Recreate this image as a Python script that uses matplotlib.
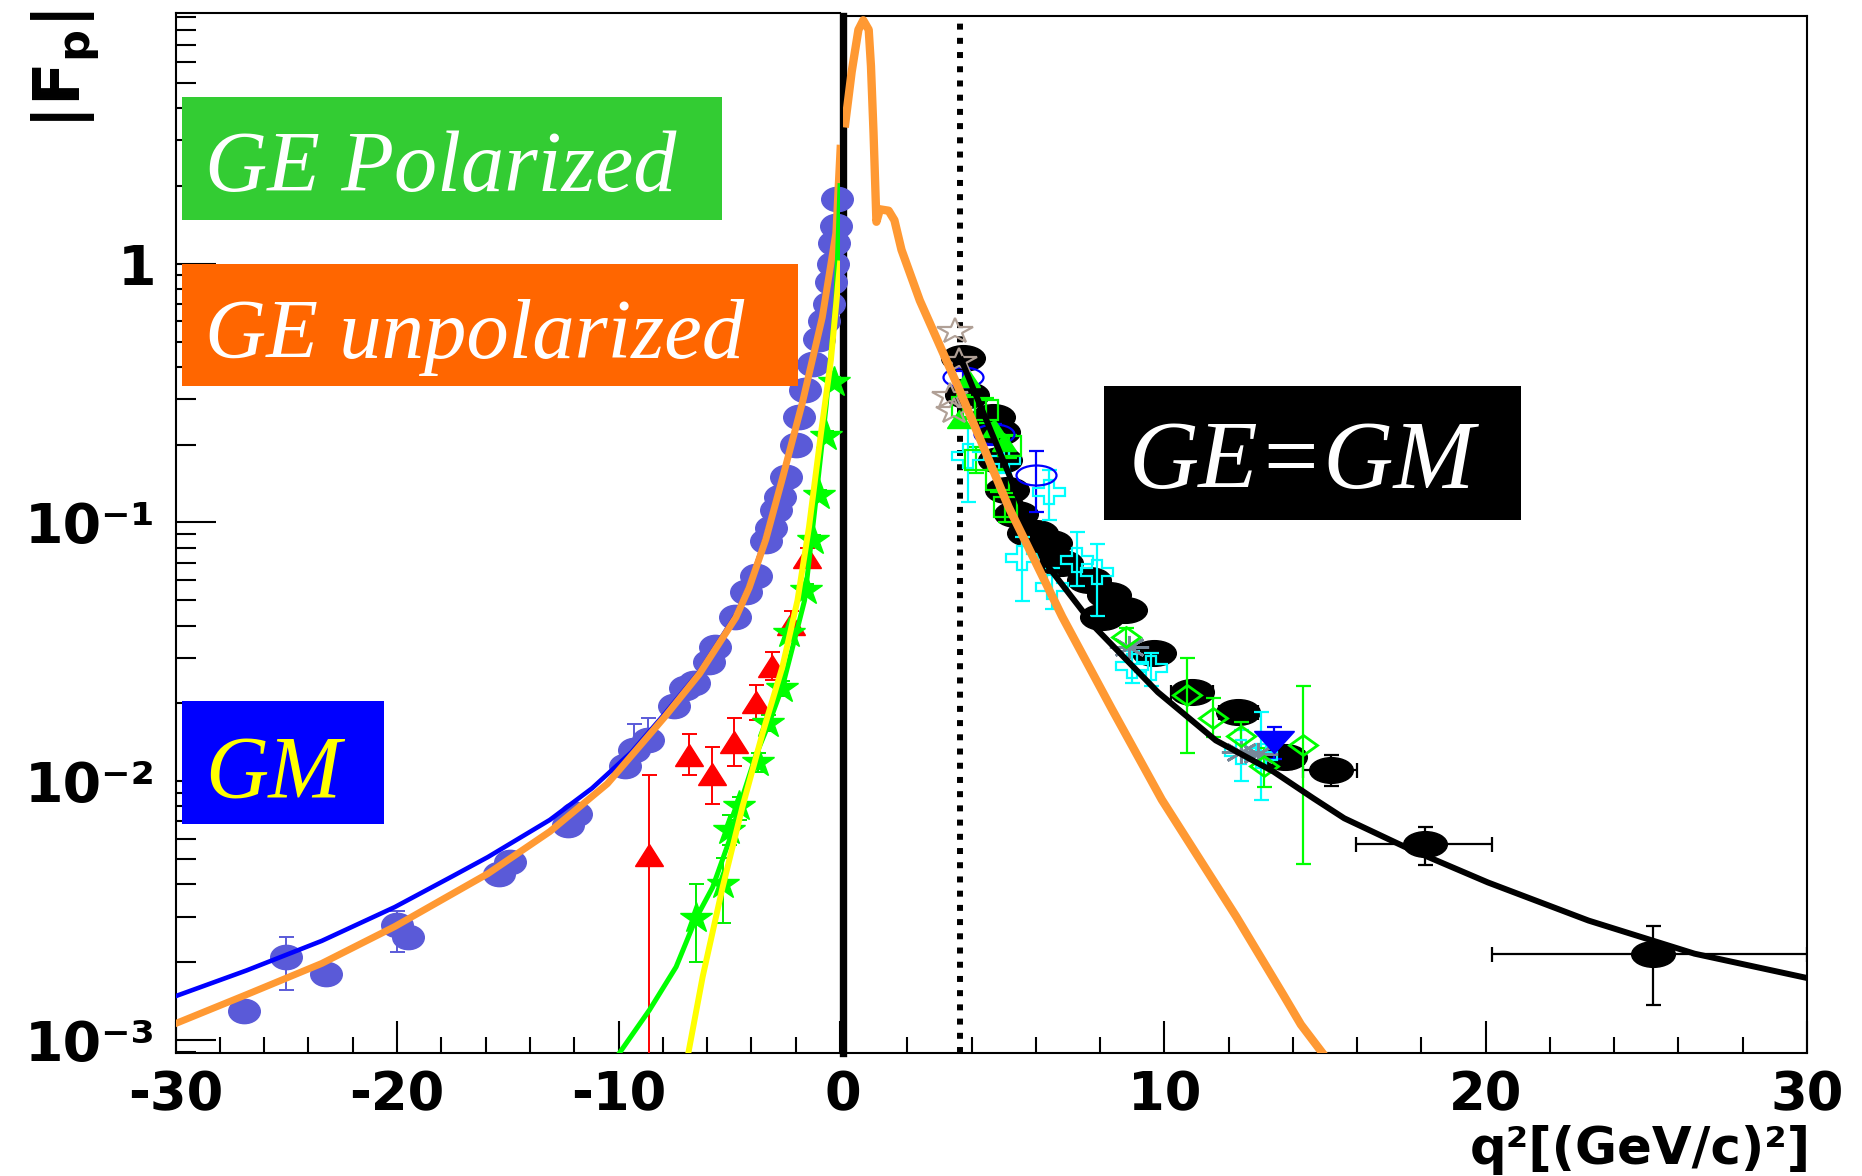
import matplotlib
matplotlib.use("Agg")
import numpy as np
import matplotlib.pyplot as plt
from matplotlib.markers import MarkerStyle
from matplotlib.transforms import Affine2D
from matplotlib.patches import Rectangle
from matplotlib.ticker import FixedLocator, FixedFormatter, NullFormatter

# ======================= DATA =======================
# ---- spacelike region (q^2 < 0), left panel ----
# GM data (blue-violet ellipses)
gm_q = [-26.9, -25.0, -23.2, -20.0, -19.5, -15.4, -14.9, -12.3, -11.9, -9.7, -9.3, -8.65,
        -7.5, -7.0, -6.6, -5.9, -5.65, -4.75, -4.26, -3.8, -3.35, -3.1, -2.9, -2.7, -2.45,
        -2.0, -1.85, -1.6, -1.24, -0.94, -0.7, -0.5, -0.4, -0.3, -0.25, -0.2, -0.15]
gm_v = [1.3e-3, 2.1e-3, 1.8e-3, 2.8e-3, 2.5e-3, 4.4e-3, 4.9e-3, 6.8e-3, 7.5e-3, 1.15e-2, 1.32e-2, 1.45e-2,
        1.95e-2, 2.3e-2, 2.4e-2, 2.9e-2, 3.3e-2, 4.3e-2, 5.4e-2, 6.2e-2, 8.5e-2, 0.095, 0.112, 0.125, 0.15,
        0.2, 0.256, 0.325, 0.41, 0.51, 0.6, 0.7, 0.85, 1.0, 1.2, 1.4, 1.77]
gm_elo = [0, 0.54e-3, 0, 0.6e-3, 0, 0, 0, 0, 0, 0, 0, 0,
          0, 0, 0, 0, 0, 0, 0, 0, 0, 0, 0, 0, 0,
          0, 0, 0, 0, 0, 0, 0, 0, 0, 0, 0, 0]
gm_ehi = [0, 0.4e-3, 0, 0.36e-3, 0, 0, 0, 0, 0, 0, 3.4e-3, 3.0e-3,
          0, 0, 0, 0, 0, 0, 0, 0, 0, 0, 0, 0, 0,
          0, 0, 0, 0, 0, 0, 0, 0, 0, 0, 0, 0]

# GE unpolarized data (red triangles)
red_q = [-8.61, -6.8, -5.8, -4.77, -3.8, -3.06, -2.22, -1.47]
red_v = [5.2e-3, 1.26e-2, 1.07e-2, 1.42e-2, 2.03e-2, 2.79e-2, 4.07e-2, 7.36e-2]
red_lo = [4.7e-3, 2.05e-3, 2.52e-3, 2.7e-3, 3.0e-3, 3.2e-3, 4.0e-3, 5.0e-3]
red_hi = [5.4e-3, 2.6e-3, 2.9e-3, 3.4e-3, 3.3e-3, 3.7e-3, 5.0e-3, 6.0e-3]

# GE polarized data (green stars)
gs_q = [-6.5, -5.3, -5.0, -4.55, -3.72, -3.27, -2.6, -2.29, -1.54, -1.24, -0.94, -0.63, -0.27]
gs_v = [2.96e-3, 4.0e-3, 6.5e-3, 8.0e-3, 1.19e-2, 1.68e-2, 2.29e-2, 3.73e-2, 5.5e-2, 8.57e-2, 0.128, 0.215, 0.35]
gs_lo = [0.96e-3, 1.17e-3, 0.8e-3, 0.9e-3, 1e-3, 1.2e-3, 1.5e-3, 2e-3, 3e-3, 4e-3, 6e-3, 1e-2, 1.5e-2]
gs_hi = [1.06e-3, 1.06e-3, 0.9e-3, 0.7e-3, 1e-3, 1.2e-3, 1.5e-3, 2e-3, 3e-3, 4e-3, 6e-3, 1e-2, 1.5e-2]

# curves, left panel
blue_q = [-30, -26.8, -23.4, -20.1, -17.5, -15.9, -13.1, -11.2, -9.4, -7.9, -6.35, -4.7, -4.1, -3.35,
          -2.6, -1.7, -0.8, -0.19, 0]
blue_v = [1.48e-3, 1.86e-3, 2.42e-3, 3.27e-3, 4.3e-3, 5.1e-3, 7.1e-3, 9.4e-3, 1.3e-2, 1.83e-2, 2.65e-2,
          4.4e-2, 5.7e-2, 8.8e-2, 0.15, 0.29, 0.62, 1.33, 2.79]
orgL_q = [-30, -26.8, -23.4, -20.1, -15.9, -13.1, -10.5, -7.9, -6.35, -4.7, -4.1, -3.35, -2.6,
          -1.7, -0.8, -0.19, 0]
orgL_v = [1.16e-3, 1.5e-3, 1.98e-3, 2.75e-3, 4.4e-3, 6.4e-3, 9.8e-3, 1.78e-2, 2.6e-2, 4.3e-2, 5.6e-2,
          8.6e-2, 0.148, 0.29, 0.62, 1.31, 2.79]
grn_q = [-9.97, -8.6, -7.4, -6.5, -5.75, -5.0, -4.55, -3.8, -3.2, -2.6, -1.99, -1.6, -1.1, -0.63, -0.18, 0]
grn_v = [8.9e-4, 1.31e-3, 1.92e-3, 2.96e-3, 3.9e-3, 5.9e-3, 7.98e-3, 1.26e-2, 1.68e-2, 2.32e-2, 3.7e-2,
         5.0e-2, 0.12, 0.28, 0.72, 2.0]
yel_q = [-6.85, -6.2, -5.3, -4.4, -3.5, -2.6, -1.92, -1.4, -0.86, -0.41, 0]
yel_v = [8.9e-4, 1.76e-3, 3.9e-3, 8.0e-3, 1.53e-2, 2.77e-2, 5.0e-2, 9.6e-2, 0.221, 0.425, 1.0]

# ---- timelike region (q^2 > 0), right panel ----
threshold_q2 = 3.65
orgR_q = [0.07, 0.27, 0.48, 0.63, 0.8, 0.87, 0.95, 1.04, 1.15, 1.42, 1.6, 1.82, 2.39, 3.62, 5.15,
          6.82, 8.37, 9.92, 12.24, 13.7, 14.25, 14.93]
orgR_v = [3.48, 5.5, 8.0, 8.7, 8.0, 5.8, 3.2, 1.45, 1.62, 1.6, 1.47, 1.13, 0.72, 0.326, 0.115,
          0.0433, 0.019, 8.5e-3, 3.0e-3, 1.5e-3, 1.15e-3, 8.9e-4]
blk_q = [3.68, 4.33, 5.15, 6.23, 7.87, 9.8, 11.6, 13.4, 14.64, 15.6, 17.6, 20.07, 23.2, 26.5, 30]
blk_v = [0.425, 0.272, 0.155, 0.0716, 0.039, 0.0221, 0.0144, 0.0109, 8.6e-3, 7.2e-3, 5.5e-3, 4.07e-3,
         2.9e-3, 2.16e-3, 1.74e-3]

# black ellipses (|GE|=|GM| data)
bd_q = [3.73, 3.85, 4.66, 4.82, 4.9, 5.1, 5.38, 5.79, 6.0, 6.43, 6.79, 7.65, 8.06, 8.27, 8.79,
        9.67, 10.85, 12.3, 13.74, 15.2, 18.1, 25.2]
bd_v = [0.43, 0.31, 0.256, 0.224, 0.175, 0.134, 0.108, 0.091, 0.091, 0.083, 0.0697, 0.06, 0.0433,
        0.0525, 0.0459, 0.0313, 0.0221, 0.0186, 0.0124, 0.0111, 5.75e-3, 2.16e-3]
bd_xlo = [0, 0, 0, 0, 0, 0, 0, 0, 0, 0, 0, 0, 0, 0, 0, 0.5, 0.65, 0.6, 0.6, 0.9, 2.14, 5.0]
bd_xhi = [0, 0, 0, 0, 0, 0, 0, 0, 0, 0, 0, 0, 0, 0, 0, 0.5, 0.65, 0.6, 0.6, 0.8, 2.1, 4.8]
bd_ylo = [0, 0, 0, 0, 0, 0, 0, 0, 0, 0, 0, 0, 0, 0.003, 0.003, 0.002, 0.0015, 0.0012, 0.0012, 0.0015, 1.0e-3, 0.79e-3]
bd_yhi = [0, 0, 0, 0, 0, 0, 0, 0, 0, 0, 0, 0, 0, 0.003, 0.003, 0.002, 0.0015, 0.0012, 0.0012, 0.0015, 0.9e-3, 0.61e-3]

# cyan open crosses
cy_q = [3.9, 5.0, 6.4, 5.58, 6.5, 7.28, 7.9, 9.0, 9.6, 12.4, 13.0]
cy_v = [0.18, 0.175, 0.131, 0.0727, 0.0565, 0.0716, 0.0646, 0.028, 0.0273, 0.013, 0.0125]
cy_lo = [0.06, 0.02, 0.029, 0.023, 0.01, 0.015, 0.021, 0.004, 0.004, 0.003, 0.004]
cy_hi = [0.054, 0.02, 0.029, 0.015, 0.01, 0.02, 0.018, 0.004, 0.004, 0.0028, 0.006]

# green open squares
gsq_q = [3.74, 4.45, 5.16, 4.15, 4.8, 5.04]
gsq_v = [0.28, 0.272, 0.197, 0.175, 0.146, 0.115]
gsq_e = [0.03, 0.03, 0.02, 0.02, 0.015, 0.015]

# green full triangles
gt_q = [3.9, 3.6, 4.69, 5.0]
gt_v = [0.36, 0.25, 0.231, 0.205]

# blue open circles
bc_q = [3.74, 4.7, 6.0]
bc_v = [0.366, 0.22, 0.153]
bc_lo = [0.02, 0.02, 0.043]
bc_hi = [0.02, 0.02, 0.035]

# tan open stars
ts_q = [3.5, 3.62, 3.33, 3.45]
ts_v = [0.55, 0.42, 0.307, 0.27]

# grey asterisks
ga_q = [8.9, 12.4, 12.9]
ga_v = [0.033, 0.013, 0.0128]

# green open diamonds
gd_q = [8.8, 10.7, 11.5, 12.4, 13.1, 14.3]
gd_v = [0.036, 0.0216, 0.0176, 0.015, 0.0115, 0.0138]
gd_lo = [0.003, 0.0087, 0.0028, 0.002, 0.002, 0.009]
gd_hi = [0.003, 0.0084, 0.0034, 0.002, 0.002, 0.0095]

# blue full down-triangle
bt_q = [13.4]
bt_v = [0.01425]
bt_lo = [0.002]
bt_hi = [0.0019]

# tick labels
xt_left = [-30, -20, -10, 0]
xt_left_lab = ['-30', '-20', '-10', '']
xt_right = [0, 10, 20, 30]
xt_right_lab = ['0', '10', '20', '30']
yt = [1e-3, 1e-2, 1e-1, 1]
yt_lab = ['10⁻³', '10⁻²', '10⁻¹', '1']

# ======================= STYLE / LAYOUT =======================
W, H = 1862, 1176
plt.rcParams['font.family'] = ['DejaVu Sans']
plt.rcParams['font.weight'] = 'bold'
plt.rcParams['mathtext.fontset'] = 'dejavusans'
plt.rcParams['mathtext.default'] = 'bf'

fig = plt.figure(figsize=(W / 100, H / 100), dpi=100)


def ax_rect(x0, x1, ytop, ybot):
    return [x0 / W, 1 - ybot / H, (x1 - x0) / W, (ybot - ytop) / H]


axL = fig.add_axes(ax_rect(175.5, 840, 13, 1053))
axR = fig.add_axes(ax_rect(843, 1807, 16, 1053))
axL.set_zorder(3)
axR.set_zorder(2)
axL.set_facecolor('none')


def mk(base, sx=1.0, fill='full'):
    return MarkerStyle(base, fillstyle=fill, transform=Affine2D().scale(sx, 1.0))


def errb(ax, x, y, ylo=None, yhi=None, xlo=None, xhi=None, color='k', lw=1.4, cap=5.4, z=3):
    yerr = None if ylo is None else [ylo, yhi]
    xerr = None if xlo is None else [xlo, xhi]
    ax.errorbar(x, y, yerr=yerr, xerr=xerr, fmt='none', ecolor=color, elinewidth=lw,
                capsize=cap, capthick=lw, zorder=z)


# ---- left panel ----
errb(axL, gm_q, gm_v, gm_elo, gm_ehi, color='#5a5ad8', lw=1.4, z=3)
axL.plot(gm_q, gm_v, ls='none', marker=mk('o', 1.3), ms=17.5, mfc='#5a5ad8', mec='#5a5ad8',
         zorder=3.1, clip_on=False)
axL.plot(blue_q, blue_v, color='#0000ff', lw=3.3, zorder=4)
axL.plot(orgL_q, orgL_v, color='#ff9933', lw=5.0, zorder=5)
errb(axL, red_q, red_v, red_lo, red_hi, color='#ff0000', lw=1.4, z=6)
axL.plot(red_q, red_v, ls='none', marker=mk('^', 1.23), ms=16.5, mfc='#ff0000', mec='#ff0000',
         zorder=6.1, clip_on=False)
errb(axL, gs_q, gs_v, gs_lo, gs_hi, color='#00ee00', lw=1.4, z=6)
axL.plot(gs_q, gs_v, ls='none', marker=mk('*', 1.07), ms=22.5, mfc='#00ff00', mec='#00ff00',
         zorder=6.2, clip_on=False)
axL.plot(grn_q, grn_v, color='#00ff00', lw=3.6, zorder=7)
axL.plot(yel_q, yel_v, color='#ffff00', lw=4.3, zorder=8)

# ---- right panel ----
axR.axvline(threshold_q2, color='k', lw=4.3, ls=(0, (1, 1.38)), dash_capstyle='butt', zorder=2)
errb(axR, bd_q, bd_v, bd_ylo, bd_yhi, bd_xlo, bd_xhi, color='k', lw=1.6, z=3)
axR.plot(bd_q, bd_v, ls='none', marker=mk('o', 1.7), ms=18.5, mfc='k', mec='k', zorder=3.1)
errb(axR, cy_q, cy_v, cy_lo, cy_hi, color='#00ffff', lw=1.6, z=4)
axR.plot(cy_q, cy_v, ls='none', marker=mk('P', 1.4, 'none'), ms=16.6, mec='#00ffff', mew=1.6, zorder=4.1)
errb(axR, gsq_q, gsq_v, gsq_e, gsq_e, color='#00ff00', lw=1.6, z=4)
axR.plot(gsq_q, gsq_v, ls='none', marker=mk('s', 1.15, 'none'), ms=14.4, mec='#00ff00', mew=1.6, zorder=4.1)
axR.plot(gt_q, gt_v, ls='none', marker=mk('^', 1.3), ms=13, mfc='#00ff00', mec='#00ff00', zorder=4.2)
errb(axR, bc_q, bc_v, bc_lo, bc_hi, color='#0000ff', lw=1.6, z=4)
axR.plot(bc_q, bc_v, ls='none', marker=mk('o', 2.0, 'none'), ms=14.4, mec='#0000ff', mew=1.6, zorder=4.1)
axR.plot(ts_q, ts_v, ls='none', marker=mk('*', 1.4, 'none'), ms=19.4, mec='#b0a096', mew=1.6, zorder=4.3)
axR.plot(ga_q, ga_v, ls='none', marker=mk((8, 2, 0), 1.7), ms=16.6, mec='#778899', mew=2.0, zorder=4.3)
errb(axR, gd_q, gd_v, gd_lo, gd_hi, color='#00ff00', lw=1.6, z=4)
axR.plot(gd_q, gd_v, ls='none', marker=mk('D', 1.4, 'none'), ms=10, mec='#00ff00', mew=2.0, zorder=4.4)
errb(axR, bt_q, bt_v, bt_lo, bt_hi, color='#0000ff', lw=1.6, z=4)
axR.plot(bt_q, bt_v, ls='none', marker=mk('v', 1.8), ms=15.8, mfc='#0000ff', mec='#0000ff', zorder=4.5)
axR.plot(blk_q, blk_v, color='k', lw=4.3, zorder=5)
axR.plot(orgR_q, orgR_v, color='#ff9933', lw=6.0, zorder=6)

# ---- axes cosmetics ----
for ax in (axL, axR):
    ax.set_yscale('log')
    for s in ax.spines.values():
        s.set_linewidth(1.5)
    ax.tick_params(which='both', direction='in', width=1.5, top=False, right=False,
                   labelsize=38, colors='k')
    ax.tick_params(axis='x', which='major', length=23, pad=12)
    ax.tick_params(axis='x', which='minor', length=11.5)

axL.set_xlim(-30, 0)
axL.set_ylim(8.93e-4, 9.29)
axR.set_xlim(0, 30)
axR.set_ylim(8.93e-4, 9.04)

axL.spines['right'].set_visible(False)
axR.spines['left'].set_linewidth(5.3)

axL.xaxis.set_major_locator(FixedLocator(xt_left))
axL.xaxis.set_major_formatter(FixedFormatter(xt_left_lab))
axL.xaxis.set_minor_locator(FixedLocator(np.arange(-30, 1, 2)))
axR.xaxis.set_major_locator(FixedLocator(xt_right))
axR.xaxis.set_major_formatter(FixedFormatter(xt_right_lab))
axR.xaxis.set_minor_locator(FixedLocator(np.arange(0, 31, 2)))

axL.yaxis.set_major_locator(FixedLocator(yt))
axL.yaxis.set_major_formatter(FixedFormatter(yt_lab))
axL.yaxis.set_minor_locator(FixedLocator([k * 10.0 ** e for e in range(-4, 1) for k in range(2, 10)]))
axL.yaxis.set_minor_formatter(NullFormatter())
axL.tick_params(axis='y', which='major', length=29, pad=14, labelsize=40)
axL.tick_params(axis='y', which='minor', length=14.5)

axR.yaxis.set_major_locator(FixedLocator(yt))
axR.yaxis.set_minor_locator(FixedLocator([k * 10.0 ** e for e in range(-4, 1) for k in range(2, 10)]))
axR.yaxis.set_minor_formatter(NullFormatter())
axR.tick_params(axis='y', which='both', left=False, labelleft=False)

# ---- labels ----
fig.text(66 / W, 1 - 10 / H, r'$|F_{p}|$', rotation=90, ha='center', va='top', fontsize=46)
fig.text(1811 / W, 1 - 1164 / H, 'q²[(GeV/c)²]', ha='right', va='baseline', fontsize=37,
         fontweight='bold')


# ---- coloured text boxes ----
def box(x0, y0, x1, y1, color):
    fig.add_artist(Rectangle((x0 / W, 1 - y1 / H), (x1 - x0) / W, (y1 - y0) / H,
                             transform=fig.transFigure, facecolor=color, edgecolor='none', zorder=10))


def boxtext(x, yb, s, color, size):
    fig.text(x / W, 1 - yb / H, s, color=color, fontsize=size, family='Liberation Serif',
             style='italic', fontweight='normal', ha='left', va='baseline', zorder=11)


box(182, 97, 722, 220, '#33cc33')
boxtext(205, 191, 'GE Polarized', 'white', 62)
box(182, 264, 798, 386, '#ff6600')
boxtext(205, 358, 'GE unpolarized', 'white', 61)
box(182, 701, 384, 824, '#0000ff')
boxtext(205, 797, 'GM', '#ffff00', 63)
box(1104, 386, 1521, 520, '#000000')
boxtext(1129, 488, 'GE=GM', 'white', 70)

fig.savefig('out.png', dpi=100)
